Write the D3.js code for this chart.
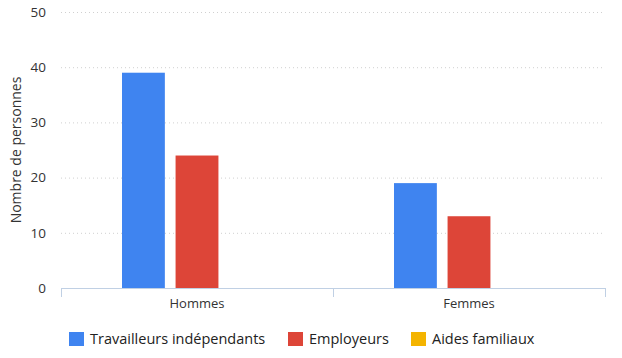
<!DOCTYPE html>
<html><head><meta charset="utf-8">
<script src="https://cdn.jsdelivr.net/npm/d3@7"></script>
<style>
body{margin:0;background:#fff;}
svg{display:block;font-family:"Open Sans","Noto Sans",sans-serif;}
</style></head>
<body><svg id="c" width="622" height="358"></svg>
<script>
const categories = ["Hommes", "Femmes"];
const seriesNames = ["Travailleurs indépendants", "Employeurs", "Aides familiaux"];
const travailleurs = [39, 19];
const employeurs = [24, 13];
const aides = [0, 0];
const yTicks = [0, 10, 20, 30, 40, 50];
const colors = ["#3f84f0", "#dd4538", "#f4b400"];
const seriesValues = [travailleurs, employeurs, aides];

(function () {
const svg = d3.select("#c");
const mLeft = 61, mRight = 605, mTop = 12, mBottom = 288;

const x = d3.scaleBand().domain(categories).range([mLeft, mRight]).paddingInner(0).paddingOuter(0);
const xInner = d3.scaleBand().domain(seriesNames).range([61, 211]).paddingInner(0.2).paddingOuter(0);
const y = d3.scaleLinear().domain([0, 50]).range([mBottom, mTop]);

// grid
svg.append("g").selectAll("line").data(yTicks.filter(d => d > 0)).join("line")
  .attr("x1", mLeft).attr("x2", mRight)
  .attr("y1", d => y(d) + 0.5).attr("y2", d => y(d) + 0.5)
  .attr("stroke", "#d0d0d0").attr("stroke-width", 1).attr("stroke-dasharray", "1,3");

// y labels
svg.append("g").selectAll("text").data(yTicks).join("text")
  .attr("x", 46).attr("y", d => y(d)).attr("dy", "0.35em")
  .attr("text-anchor", "end").attr("font-size", 13.5).attr("fill", "#333").text(d => d);

// y title
svg.append("text").attr("transform", `translate(21,${(mTop + mBottom) / 2}) rotate(-90)`)
  .attr("text-anchor", "middle").attr("font-size", 14).attr("fill", "#333").text("Nombre de personnes");

// bars
const data = [];
categories.forEach((c, i) => seriesNames.forEach((s, j) => data.push({c, s, v: seriesValues[j][i], j})));
svg.append("g").selectAll("rect").data(data).join("rect")
  .attr("x", d => x(d.c) + xInner(d.s))
  .attr("width", xInner.bandwidth())
  .attr("y", d => y(d.v)).attr("height", d => y(0) - y(d.v))
  .attr("fill", d => colors[d.j]);

// x axis
const ax = svg.append("g");
ax.append("line").attr("x1", mLeft).attr("x2", mRight).attr("y1", mBottom + 0.5).attr("y2", mBottom + 0.5)
  .attr("stroke", "#c0d0e4").attr("stroke-width", 1);
const edges = [x(categories[0]), x(categories[1]), x(categories[1]) + x.bandwidth()];
ax.selectAll("line.t").data(edges).join("line").attr("class", "t")
  .attr("x1", d => Math.round(d) + 0.5).attr("x2", d => Math.round(d) + 0.5)
  .attr("y1", mBottom).attr("y2", mBottom + 9).attr("stroke", "#c0d0e4");
ax.selectAll("text").data(categories).join("text")
  .attr("x", d => x(d) + x.bandwidth() / 2).attr("y", 308)
  .attr("text-anchor", "middle").attr("font-size", 13).attr("fill", "#333").text(d => d);

// legend
const lg = svg.append("g");
const legendX = [69, 288, 411];
seriesNames.forEach((s, i) => {
  lg.append("rect").attr("x", legendX[i]).attr("y", 332).attr("width", 15).attr("height", 14).attr("fill", colors[i]);
  lg.append("text").attr("x", legendX[i] + 21).attr("y", 339).attr("dy", "0.35em")
    .attr("font-size", 14.5).attr("fill", "#222").text(s);
});
})();
</script></body></html>
